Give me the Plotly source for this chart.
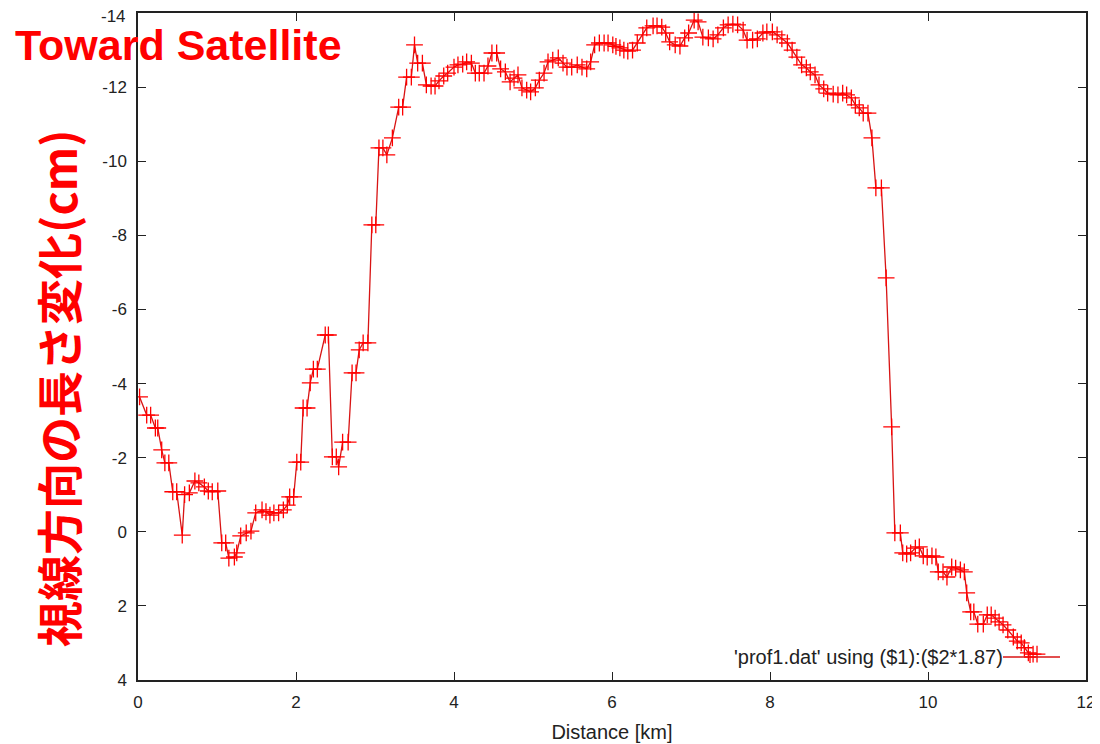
import plotly.graph_objects as go

# ---- data ----
distance_km = [
    0.02, 0.11, 0.16, 0.22, 0.25, 0.30, 0.34, 0.39, 0.44, 0.49,
    0.56, 0.59, 0.65, 0.72, 0.77, 0.84, 0.89, 0.94, 1.01, 1.06,
    1.11, 1.15, 1.22, 1.25, 1.30, 1.37, 1.43, 1.49, 1.57, 1.62,
    1.67, 1.72, 1.78, 1.84, 1.89, 1.92, 1.97, 2.01, 2.06, 2.09,
    2.14, 2.18, 2.22, 2.27, 2.37, 2.41, 2.46, 2.51, 2.54, 2.59,
    2.66, 2.71, 2.76, 2.80, 2.85, 2.91, 2.96, 3.01, 3.05, 3.10,
    3.15, 3.22, 3.30, 3.35, 3.40, 3.46, 3.50, 3.54, 3.60, 3.65,
    3.71, 3.76, 3.81, 3.87, 3.92, 4.00, 4.05, 4.11, 4.16, 4.22,
    4.27, 4.32, 4.38, 4.43, 4.48, 4.54, 4.59, 4.65, 4.71, 4.76,
    4.81, 4.86, 4.92, 4.97, 5.03, 5.08, 5.14, 5.19, 5.25, 5.32,
    5.38, 5.43, 5.49, 5.56, 5.62, 5.68, 5.73, 5.78, 5.84, 5.90,
    5.95, 6.01, 6.05, 6.10, 6.15, 6.20, 6.26, 6.32, 6.39, 6.44,
    6.52, 6.57, 6.63, 6.68, 6.73, 6.80, 6.86, 6.92, 6.97, 7.04,
    7.09, 7.15, 7.22, 7.28, 7.34, 7.41, 7.47, 7.53, 7.59, 7.66,
    7.71, 7.78, 7.84, 7.91, 7.96, 8.03, 8.09, 8.15, 8.22, 8.28,
    8.34, 8.40, 8.46, 8.51, 8.57, 8.62, 8.68, 8.73, 8.80, 8.86,
    8.92, 8.97, 9.03, 9.08, 9.13, 9.18, 9.24, 9.29, 9.34, 9.41,
    9.47, 9.54, 9.58, 9.65, 9.68, 9.73, 9.78, 9.84, 9.89, 9.94,
    9.99, 10.05, 10.10, 10.13, 10.19, 10.24, 10.30, 10.35, 10.41, 10.46,
    10.49, 10.54, 10.58, 10.63, 10.70, 10.75, 10.80, 10.85, 10.90, 10.95,
    11.01, 11.08, 11.13, 11.18, 11.22, 11.27, 11.33, 11.38,
]
los_change_cm = [
    -3.64, -3.15, -3.15, -2.80, -2.80, -2.21, -1.86, -1.86, -1.08, -1.08,
    0.09, -1.00, -1.05, -1.37, -1.32, -1.21, -1.10, -1.08, -1.10, 0.30,
    0.30, 0.71, 0.68, 0.57, 0.11, 0.03, -0.02, -0.51, -0.59, -0.54,
    -0.45, -0.51, -0.51, -0.59, -0.72, -0.94, -0.94, -1.88, -1.88, -3.34,
    -3.34, -4.02, -4.39, -4.39, -5.31, -5.31, -2.02, -2.02, -1.75, -2.42,
    -2.42, -4.29, -4.29, -4.91, -5.10, -5.10, -8.28, -8.28, -10.36, -10.36,
    -10.17, -10.63, -11.46, -11.46, -12.27, -12.27, -13.14, -12.65, -12.65, -12.06,
    -12.03, -12.03, -12.17, -12.30, -12.38, -12.54, -12.60, -12.62, -12.68, -12.65,
    -12.38, -12.38, -12.38, -12.57, -12.92, -12.92, -12.49, -12.41, -12.14, -12.24,
    -12.33, -11.98, -11.92, -11.87, -11.98, -12.19, -12.38, -12.68, -12.73, -12.79,
    -12.65, -12.54, -12.54, -12.60, -12.54, -12.49, -12.68, -13.14, -13.19, -13.19,
    -13.19, -13.14, -13.10, -13.06, -13.00, -12.97, -13.00, -13.19, -13.41, -13.60,
    -13.65, -13.65, -13.62, -13.46, -13.22, -13.14, -13.11, -13.33, -13.46, -13.81,
    -13.76, -13.35, -13.33, -13.30, -13.41, -13.60, -13.68, -13.70, -13.68, -13.54,
    -13.27, -13.27, -13.30, -13.46, -13.49, -13.49, -13.41, -13.30, -13.19, -13.00,
    -12.81, -12.60, -12.52, -12.41, -12.33, -12.06, -11.95, -11.84, -11.81, -11.79,
    -11.84, -11.79, -11.71, -11.52, -11.44, -11.30, -11.30, -10.63, -9.28, -9.28,
    -6.85, -2.83, 0.03, 0.03, 0.57, 0.60, 0.57, 0.44, 0.41, 0.65,
    0.68, 0.65, 0.68, 1.08, 1.08, 1.22, 0.95, 0.98, 1.03, 1.08,
    1.65, 2.16, 2.16, 2.49, 2.49, 2.24, 2.24, 2.33, 2.43, 2.51,
    2.65, 2.84, 2.95, 3.00, 3.13, 3.27, 3.30, 3.30,
]
x_ticks = [0, 2, 4, 6, 8, 10, 12]
y_ticks = [-14, -12, -10, -8, -6, -4, -2, 0, 2, 4]
x_tick_labels = [str(v) for v in x_ticks]
y_tick_labels = [str(v) for v in y_ticks]
x_title = "Distance [km]"
y_title = "視線方向の長さ変化(cm)"
top_label = "Toward Satellite"
legend_label = "'prof1.dat' using ($1):($2*1.87)"

# ---- layout geometry (screen pixels; page body adds an 8px offset) ----
W, H = 1100, 744
OFF = 8
L, R, T, B = 138, 1086, 13, 680
PW, PH = R - L, B - T


def px(xp):
    return (xp - L) / PW


def py(yp):
    return 1 - (yp - T) / PH


RED_LINE = "#d81414"
RED_MARK = "#ff0000"
TXT = "#222222"
FONT = "Liberation Sans, Arial, sans-serif"
TICK_FONT = dict(family=FONT, size=17, color=TXT)

# the top y label sits just below the frame edge (as in the reference),
# so it is drawn as an annotation; the axis shows the others
axis_y_labels = [""] + y_tick_labels[1:]

fig = go.Figure()
fig.add_trace(go.Scatter(
    x=distance_km, y=los_change_cm,
    mode="lines+markers",
    line=dict(color=RED_LINE, width=1.3),
    marker=dict(symbol="cross-thin", size=12, color=RED_MARK,
                line=dict(color=RED_MARK, width=1.3)),
    showlegend=False,
    hoverinfo="x+y",
))

axis_common = dict(
    showline=True, linecolor="#222222", linewidth=1.5, mirror="ticks",
    ticks="inside", ticklen=8, tickwidth=1.3, tickcolor="#222222",
    showgrid=False, zeroline=False, automargin=False,
    ticklabeloverflow="allow",
    tickfont=TICK_FONT,
)

fig.update_layout(
    width=W, height=H,
    margin=dict(l=L - OFF, r=W - (R - OFF), t=T - OFF, b=H - (B - OFF), pad=0),
    paper_bgcolor="white", plot_bgcolor="white",
    xaxis=dict(range=[0, 12], tickvals=x_ticks, ticktext=x_tick_labels,
               title=dict(text=x_title, standoff=14,
                          font=dict(family=FONT, size=20, color=TXT)),
               ticklabelstandoff=6,
               **axis_common),
    yaxis=dict(range=[4, -14], tickvals=y_ticks, ticktext=axis_y_labels,
               ticklabelstandoff=6,
               **axis_common),
    font=dict(family=FONT, color=TXT),
)

fig.add_annotation(
    text=y_tick_labels[0], xref="paper", yref="paper",
    x=px(128), y=py(16), xanchor="right", yanchor="middle",
    showarrow=False, font=TICK_FONT, height=18,
)

# title-like red labels
fig.add_annotation(
    text=top_label, xref="paper", yref="paper",
    x=px(13), y=py(45), xanchor="left", yanchor="middle",
    showarrow=False, height=40,
    font=dict(family="Liberation Sans, Arial, sans-serif", size=43,
              color="#ff0000", weight="bold"),
)
fig.add_annotation(
    text=f"<b>{y_title}</b>", xref="paper", yref="paper",
    x=px(57), y=py(389), xanchor="center", yanchor="middle",
    textangle=-90, showarrow=False,
    font=dict(family="Noto Sans CJK JP, sans-serif", size=46, color="#ff0000"),
)

# gnuplot-style key (text left, sample to the right)
fig.add_annotation(
    text=legend_label, xref="paper", yref="paper",
    x=px(1005), y=py(657), xanchor="right", yanchor="middle",
    showarrow=False,
    font=dict(family=FONT, size=20, color=TXT),
)
fig.add_shape(type="line", xref="paper", yref="paper",
              x0=px(1003), x1=px(1060), y0=py(657), y1=py(657),
              line=dict(color=RED_LINE, width=1.3))
fig.add_shape(type="line", xref="paper", yref="paper",
              x0=px(1024), x1=px(1036), y0=py(657), y1=py(657),
              line=dict(color=RED_MARK, width=1.3))
fig.add_shape(type="line", xref="paper", yref="paper",
              x0=px(1030), x1=px(1030), y0=py(651), y1=py(663),
              line=dict(color=RED_MARK, width=1.3))

fig.write_html("out.html")
